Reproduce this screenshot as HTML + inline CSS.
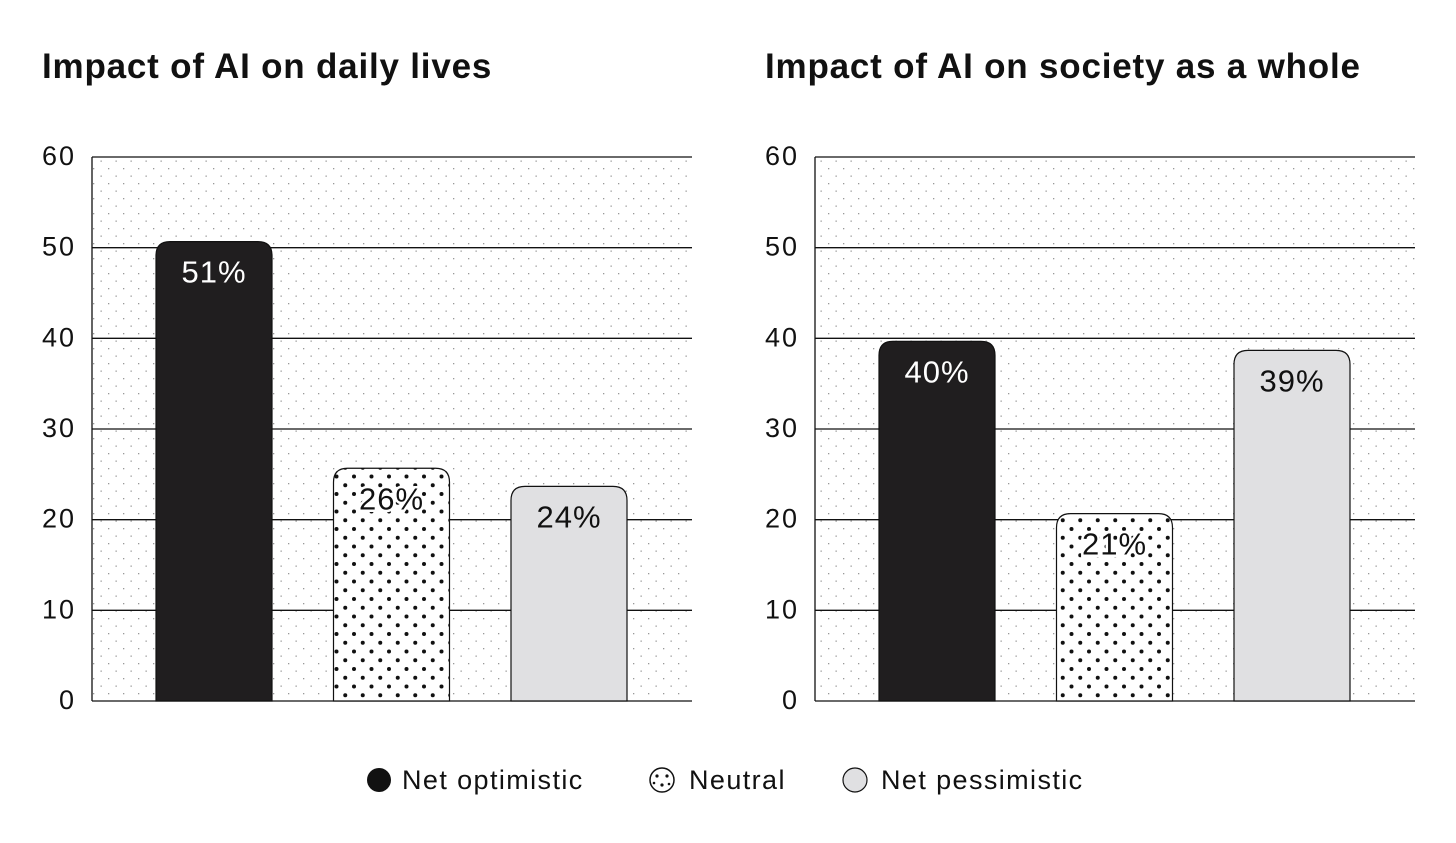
<!DOCTYPE html>
<html><head><meta charset="utf-8"><style>
html,body{margin:0;padding:0;background:#fff;}
svg{display:block;font-family:"Liberation Sans",sans-serif;}
</style></head><body>
<svg id="chart" width="1456" height="843" viewBox="0 0 1456 843" xmlns="http://www.w3.org/2000/svg">
<defs>
<pattern id="bgdots" width="15" height="15" patternUnits="userSpaceOnUse">
<rect x="3" y="3" width="1.3" height="1.3" fill="#999"/>
<rect x="10.5" y="10.5" width="1.3" height="1.3" fill="#999"/>
</pattern>
<pattern id="bardots" width="17.5" height="17.5" patternUnits="userSpaceOnUse">
<circle cx="4" cy="4" r="2" fill="#111"/>
<circle cx="12.75" cy="12.75" r="2" fill="#111"/>
</pattern>
</defs>
<g id="plots"></g>
<g id="legend">
<g>
<circle cx="379" cy="780" r="12" fill="#111"/>
<text x="402" y="789" font-size="27" letter-spacing="1.4" fill="#111">Net optimistic</text></g>
<g>
<circle cx="662" cy="780" r="12" fill="#fff" stroke="#111" stroke-width="1.5"/>
<circle cx="657" cy="776" r="1.6" fill="#111"/><circle cx="667" cy="776" r="1.6" fill="#111"/>
<circle cx="662" cy="785" r="1.6" fill="#111"/><circle cx="654" cy="783" r="1.3" fill="#111"/><circle cx="669" cy="784" r="1.3" fill="#111"/>
<text x="689" y="789" font-size="27" letter-spacing="1.4" fill="#111">Neutral</text></g>
<g>
<circle cx="855" cy="780" r="12" fill="#e0e0e2" stroke="#111" stroke-width="1.2"/>
<text x="881" y="789" font-size="27" letter-spacing="1.4" fill="#111">Net pessimistic</text></g>
</g>
</svg>
<script>
const categories = ["Net optimistic","Neutral","Net pessimistic"];
const dailyValues = [51,26,24];
const societyValues = [40,21,39];
const tickLabels = [0,10,20,30,40,50,60];
const titles = ["Impact of AI on daily lives","Impact of AI on society as a whole"];
const NS="http://www.w3.org/2000/svg";
const root=document.getElementById('plots');
function mk(tag,attrs,parent){const e=document.createElementNS(NS,tag);for(const k in attrs)e.setAttribute(k,attrs[k]);parent.appendChild(e);return e;}
const fills=["#201e1f","url(#bardots)","#e0e0e2"];
const labelColors=["#fff","#111","#111"];
function drawPlot(x0,title,values,idx){
  const g=mk('g',{},root);
  
  
  const W=600,yTop=157,yBot=701,maxV=60;
  const y=v=>yBot-(v/maxV)*(yBot-yTop);
  const t=mk('text',{x:x0-50,y:78,'font-size':35,'font-weight':'bold','letter-spacing':0.8,fill:'#111'},g);
  t.textContent=title;
  
  
  const bg=mk('rect',{x:x0,y:yTop,width:W,height:yBot-yTop,fill:'url(#bgdots)'},g);
  
  
  mk('line',{x1:x0,y1:yTop,x2:x0,y2:yBot,stroke:'#111','stroke-width':1.3},g);
  tickLabels.forEach(v=>{
    const l=mk('line',{x1:x0,y1:y(v),x2:x0+W,y2:y(v),stroke:'#111','stroke-width':1.3},g);
    
    
    const tx=mk('text',{x:x0-16,y:y(v)+8,'font-size':27,'letter-spacing':2,'text-anchor':'end',fill:'#111'},g);
    tx.textContent=v;
    
    
  });
  const bw=116,step=177.5,off=64;
  values.forEach((v,i)=>{
    const bx=x0+off+i*step, by=y(v)+3, h=yBot-by, r=14;
    const d=`M${bx},${yBot} L${bx},${by+r} Q${bx},${by} ${bx+r},${by} L${bx+bw-r},${by} Q${bx+bw},${by} ${bx+bw},${by+r} L${bx+bw},${yBot} Z`;
    if(i===1) mk('path',{d:d,fill:'#fff'},g);
    const p=mk('path',{d:d,fill:fills[i],stroke:'#111','stroke-width':1.2},g);
    
    
    const lb=mk('text',{x:bx+bw/2,y:by+41,'font-size':31,'letter-spacing':1,'text-anchor':'middle',fill:labelColors[i]},g);
    if(i===1) lb.setAttribute('style','paint-order:stroke;stroke:#fff;stroke-width:5px');
    lb.textContent=v+'%';
    
    
  });
}
drawPlot(92,titles[0],dailyValues,0);
drawPlot(815,titles[1],societyValues,1);
</script>
</body></html>
